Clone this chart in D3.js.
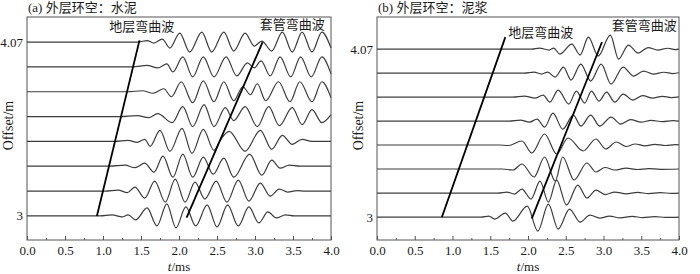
<!DOCTYPE html>
<html>
<head>
<meta charset="utf-8">
<script src="https://cdn.jsdelivr.net/npm/d3@7"></script>
<style>
body { margin: 0; background: #fff; }
svg text { font-family: "Liberation Serif", "Noto Sans CJK SC", serif; fill: #1a1a1a; }
</style>
</head>
<body>
<div id="chart"></div>
<script>
// time axis (ms)
const timeTicks = [0, 0.5, 1, 1.5, 2, 2.5, 3, 3.5, 4];
const timeMinorTicks = [0.25, 0.75, 1.25, 1.75, 2.25, 2.75, 3.25, 3.75];
// receiver offsets (m), bottom to top
const offsets = [3, 3.153, 3.306, 3.459, 3.611, 3.764, 3.917, 4.07];
const offsetLabels = [3, 4.07];

// panel (a): cement, extrema read as [t (ms), amplitude]
const traceA0 = [[0,0],[0.96,0],[1.12,1],[1.25,-1],[1.33,1],[1.43,-4],[1.58,8],[1.71,-10],[1.84,12],[1.96,-12],[2.09,9],[2.22,-10],[2.37,11],[2.50,-11],[2.64,11],[2.78,-10],[2.92,9],[3.05,-7],[3.17,4],[3.28,-2],[3.40,1],[3.52,0],[4,0]];
const traceA1 = [[0,0],[1.03,0],[1.20,1],[1.32,-1.5],[1.42,4],[1.55,-7],[1.68,10],[1.82,-11],[1.95,12],[2.08,-11],[2.21,9],[2.34,-8],[2.49,10],[2.63,-11],[2.78,11],[2.92,-10],[3.07,8],[3.20,-5],[3.32,2],[3.43,-1],[3.55,0.5],[3.66,0],[4,0]];
const traceA2 = [[0,0],[1.09,0],[1.29,1],[1.42,-1.5],[1.55,3],[1.67,-6],[1.79,10],[1.92,-11],[2.05,12],[2.18,-11],[2.32,9],[2.45,-8],[2.59,8],[2.72,-11],[2.93,12],[3.09,-9],[3.22,6],[3.33,-2],[3.45,1],[3.59,0],[4,0]];
const traceA3 = [[0,0],[1.16,0],[1.33,1],[1.45,-1],[1.55,2],[1.62,-5],[1.75,11],[1.88,-10],[2.04,13],[2.17,-12],[2.32,12],[2.46,-9],[2.55,2],[2.66,10],[2.87,-10],[3.07,11],[3.22,-8],[3.36,6],[3.49,-3],[3.62,2],[3.75,0],[4,0]];
const traceA4 = [[0,0],[1.22,0],[1.45,1],[1.60,-1],[1.72,3],[1.91,-6],[2.05,10],[2.18,-10],[2.33,12],[2.46,-10],[2.61,9],[2.72,-4],[2.87,10],[3.03,-10],[3.18,10],[3.32,-9],[3.49,9],[3.62,-8],[3.75,7],[3.88,-6],[4,2]];
const traceA5 = [[0,0],[1.32,0],[1.52,1],[1.66,-1.5],[1.80,3],[1.90,-5],[2.03,10],[2.18,-11],[2.32,11],[2.46,-10],[2.59,10],[2.72,-9],[2.84,5],[2.94,-3],[3.03,8],[3.14,-9],[3.31,10],[3.46,-10],[3.59,10],[3.75,-10],[3.88,10],[4,-6]];
const traceA6 = [[0,0],[1.39,0],[1.58,1.5],[1.72,-1],[1.84,3],[1.92,-5],[2.05,10],[2.18,-10],[2.32,10],[2.46,-10],[2.62,10],[2.76,-9],[2.90,4],[2.99,-1],[3.08,6],[3.20,-9],[3.33,10],[3.47,-10],[3.60,10],[3.74,-10],[3.88,10],[4,-7]];
const traceA7 = [[0,0],[1.47,0],[1.58,1.5],[1.67,-1],[1.78,3],[1.88,-6],[2.01,9],[2.14,-10],[2.30,10],[2.43,-10],[2.59,10],[2.72,-9],[2.87,9],[2.99,-4],[3.09,1],[3.22,-9],[3.36,10],[3.49,-10],[3.62,10],[3.75,-10],[3.88,10],[4,-6]];

// panel (b): mud
const traceB0 = [[0,0],[1.38,0],[1.48,1],[1.56,-2],[1.70,4],[1.80,-4],[1.99,11],[2.13,-14],[2.27,13],[2.40,-12],[2.55,8],[2.69,-5],[2.82,2],[2.95,-1],[3.08,1],[3.22,-0.8],[3.38,0.6],[3.52,-0.5],[3.68,0.4],[3.82,-0.3],[4,0]];
const traceB1 = [[0,0],[1.60,0],[1.72,1],[1.82,-1],[1.92,4],[2.04,-6],[2.16,12],[2.27,-9],[2.38,13],[2.51,-12],[2.66,8],[2.78,-5],[2.90,3],[3.02,-1.5],[3.15,1],[3.30,-0.8],[3.45,0.6],[3.60,-0.5],[3.75,0.4],[3.90,-0.3],[4,0]];
const traceB2 = [[0,0],[1.66,0],[1.80,-1],[1.92,5],[2.08,-8],[2.22,12],[2.36,-12],[2.46,12],[2.61,-11],[2.78,6],[2.90,-3],[3.02,1.5],[3.15,-1],[3.30,0.8],[3.45,-0.5],[3.60,0.4],[3.75,-0.3],[4,0]];
const traceB3 = [[0,0],[1.62,0],[1.74,-0.5],[1.92,4],[2.05,-8],[2.22,11],[2.38,-9],[2.53,7],[2.73,-6],[2.90,6],[3.03,-4],[3.17,3],[3.30,-1.5],[3.42,1],[3.55,-0.8],[3.68,0.6],[3.82,-0.5],[3.95,0.4],[4,0.2]];
const traceB4 = [[0,0],[1.75,0],[1.90,1],[2.02,-1],[2.12,2],[2.22,-6],[2.33,8],[2.46,-8],[2.60,6],[2.70,-5],[2.83,6],[2.95,-5],[3.10,4],[3.23,-3],[3.36,1.5],[3.50,-1],[3.63,0.8],[3.78,-0.5],[3.92,0.5],[4,0]];
const traceB5 = [[0,0],[1.80,0],[1.95,1],[2.10,-1],[2.20,2],[2.29,-5],[2.40,7],[2.54,-7],[2.64,6],[2.75,-6],[2.84,6],[2.94,-4],[3.04,5],[3.15,-5],[3.26,3],[3.39,-3],[3.52,1.5],[3.65,-1],[3.78,0.8],[3.90,-0.5],[4,0.3]];
const traceB6 = [[0,0],[1.95,0],[2.08,1],[2.18,-1],[2.26,1],[2.36,-4],[2.47,6],[2.57,-7],[2.70,9],[2.83,-8],[2.97,9],[3.10,-11],[3.26,6],[3.40,-3],[3.53,2],[3.66,-1],[3.80,0.8],[3.92,-0.5],[4,0.3]];
const traceB7 = [[0,0],[2.05,0],[2.15,1],[2.28,-1],[2.34,1],[2.42,-5],[2.58,5],[2.69,-6],[2.80,12],[2.93,-7],[3.09,14],[3.20,-10],[3.33,4],[3.46,-4],[3.59,1.5],[3.72,-1],[3.85,0.8],[3.95,-0.5],[4,0]];

const tracesA = [traceA0, traceA1, traceA2, traceA3, traceA4, traceA5, traceA6, traceA7];
const tracesB = [traceB0, traceB1, traceB2, traceB3, traceB4, traceB5, traceB6, traceB7];

// picked arrival lines [t, offset]
const formationLineA = [[0.92, 3.0], [1.48, 4.08]];
const casingLineA = [[2.10, 2.99], [3.10, 4.07]];
const formationLineB = [[0.86, 3.0], [1.70, 4.146]];
const casingLineB = [[2.05, 2.99], [2.98, 4.115]];

// annotations: [text, t, offset]
const notesA = [["地层弯曲波", 1.51, 4.14], ["套管弯曲波", 3.49, 4.15]];
const notesB = [["地层弯曲波", 2.17, 4.146], ["套管弯曲波", 3.54, 4.19]];

const panels = [
    { title: "(a) 外层环空：水泥", left: 27, right: 331, yDomain: [2.852, 4.224],
      traces: tracesA, lines: [formationLineA, casingLineA], notes: notesA },
    { title: "(b) 外层环空：泥浆", left: 377, right: 679, yDomain: [2.854, 4.274],
      traces: tracesB, lines: [formationLineB, casingLineB], notes: notesB }
];

const width = 700, height = 274;
const plotTop = 17, plotBottom = 240;

const svg = d3.select("#chart")
    .append("svg")
    .attr("width", width)
    .attr("height", height);

panels.forEach(p => {
    const g = svg.append("g");

    const x = d3.scaleLinear().domain([0, 4]).range([p.left, p.right]);
    const y = d3.scaleLinear().domain(p.yDomain).range([plotBottom, plotTop]);
    const amp = d3.scaleLinear().domain([-10, 10]).range([10, -10]);

    // traces
    p.traces.forEach((tr, i) => {
        const base = y(offsets[i]);
        const line = d3.line()
            .x(d => x(d[0]))
            .y(d => base + amp(d[1]))
            .curve(d3.curveMonotoneX);
        g.append("path")
            .datum(tr)
            .attr("d", line)
            .attr("fill", "none")
            .attr("stroke", "#3c3c3c")
            .attr("stroke-width", 1.2);
    });

    // arrival lines
    p.lines.forEach(l => {
        g.append("path")
            .datum(l)
            .attr("d", d3.line().x(d => x(d[0])).y(d => y(d[1])))
            .attr("stroke", "#000")
            .attr("stroke-width", 1.8);
    });

    // frame
    g.append("rect")
        .attr("x", p.left)
        .attr("y", plotTop)
        .attr("width", p.right - p.left)
        .attr("height", plotBottom - plotTop)
        .attr("fill", "none")
        .attr("stroke", "#555")
        .attr("stroke-width", 1);

    // x axis
    const xAxis = g.append("g")
        .attr("transform", `translate(0,${plotBottom})`)
        .call(d3.axisBottom(x).tickValues(timeTicks).tickSize(-4).tickPadding(6).tickFormat(d3.format(".1f")));
    xAxis.select(".domain").remove();
    xAxis.selectAll("line").attr("stroke", "#555");
    xAxis.selectAll("text").attr("font-size", 13).attr("font-family", "Liberation Serif");

    const xMinor = g.append("g")
        .attr("transform", `translate(0,${plotBottom})`)
        .call(d3.axisBottom(x).tickValues(timeMinorTicks).tickSize(-2).tickFormat(""));
    xMinor.select(".domain").remove();
    xMinor.selectAll("line").attr("stroke", "#555");

    const xt = g.append("text")
        .attr("x", (p.left + p.right) / 2)
        .attr("y", 271)
        .attr("text-anchor", "middle")
        .attr("font-size", 13);
    xt.append("tspan").attr("font-style", "italic").text("t");
    xt.append("tspan").text("/ms");

    // y labels
    offsetLabels.forEach(o => {
        g.append("text")
            .attr("x", p.left - 4)
            .attr("y", y(o))
            .attr("dy", "0.35em")
            .attr("text-anchor", "end")
            .attr("font-size", 13)
            .text(o);
    });

    g.append("text")
        .attr("transform", `translate(${p.left - 14},${(plotTop + plotBottom) / 2 - 3}) rotate(-90)`)
        .attr("text-anchor", "middle")
        .attr("font-size", 14)
        .text("Offset/m");

    // title
    g.append("text")
        .attr("x", p.left + 1)
        .attr("y", 12)
        .attr("font-size", 13)
        .text(p.title);

    // annotations
    p.notes.forEach(n => {
        g.append("text")
            .attr("x", x(n[1]))
            .attr("y", y(n[2]))
            .attr("text-anchor", "middle")
            .attr("font-size", 13)
            .text(n[0]);
    });
});
</script>
</body>
</html>
